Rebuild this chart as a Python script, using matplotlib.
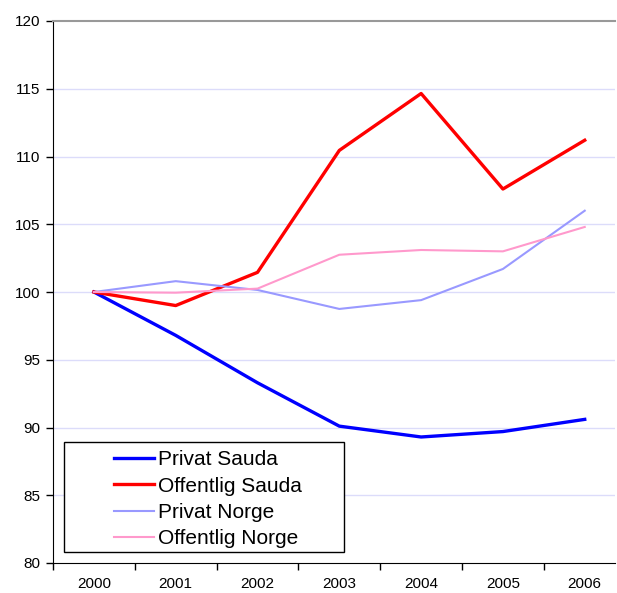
import matplotlib
matplotlib.use("Agg")
import matplotlib.pyplot as plt
from matplotlib.patches import Rectangle

plt.rcParams['font.family'] = ['Liberation Sans', 'DejaVu Sans']

years = ["2000", "2001", "2002", "2003", "2004", "2005", "2006"]
privat_sauda = [100.0, 96.8, 93.3, 90.1, 89.3, 89.7, 90.6]
offentlig_sauda = [100.0, 99.0, 101.45, 110.45, 114.65, 107.6, 111.2]
privat_norge = [100.0, 100.8, 100.15, 98.75, 99.4, 101.7, 106.0]
offentlig_norge = [100.0, 99.95, 100.25, 102.75, 103.1, 103.0, 104.8]

W, H = 617, 593
fig = plt.figure(figsize=(W / 100, H / 100), dpi=100)
ax = fig.add_axes([53/W, 30/H, 562/W, 542/H])

x = list(range(len(years)))
ax.plot(x, privat_sauda, color='#0000ff', lw=2.4, label='Privat Sauda')
ax.plot(x, offentlig_sauda, color='#ff0000', lw=2.4, label='Offentlig Sauda')
ax.plot(x, privat_norge, color='#9999ff', lw=1.5, label='Privat Norge')
ax.plot(x, offentlig_norge, color='#ff99cc', lw=1.5, label='Offentlig Norge')

ax.set_yticks(range(80, 121, 5))
ax.set_xticks(x)
ax.set_xticklabels(years)
ax.set_xticks([i - 0.5 for i in range(len(years) + 1)], minor=True)
ax.set_ylim(80, 120)
ax.set_xlim(-0.5, 6.37)
ax.tick_params(axis='x', which='major', length=0, pad=10, labelsize=11)
ax.tick_params(axis='x', which='minor', length=5, width=1)
ax.tick_params(axis='y', length=5, width=1, pad=4, labelsize=11)

for v in range(85, 120, 5):
    ax.axhline(v, color='#dcdcfa', lw=1, zorder=0)

ax.spines['right'].set_visible(False)
ax.spines['top'].set_color('#999999')
ax.spines['top'].set_linewidth(1.5)

# legend box drawn separately (Excel style wide padding)
fig.patches.append(Rectangle((64/W, 1 - 552/H), 280/W, 110/H, transform=fig.transFigure,
                             fill=True, facecolor='white', edgecolor='black', lw=1, zorder=3))
leg = fig.legend(loc='upper left', bbox_to_anchor=(114/W, 1 - 450/H), fontsize=15,
                 frameon=False, handlelength=1.92, handletextpad=0.2,
                 labelspacing=0.36, borderpad=0, borderaxespad=0)
leg.set_zorder(4)

fig.savefig("out.png", dpi=100)
